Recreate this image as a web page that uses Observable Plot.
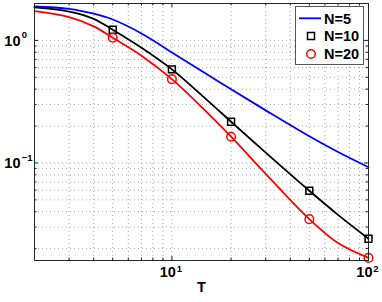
<!DOCTYPE html>
<html><head><meta charset="utf-8">
<script src="https://cdn.jsdelivr.net/npm/d3@7"></script>
<script src="https://cdn.jsdelivr.net/npm/@observablehq/plot@0.6"></script>
<style>
html,body{margin:0;padding:0;background:#fff;}
#wrap{position:relative;width:382px;height:302px;font-family:"Liberation Sans",Arial,sans-serif;}
#legend{position:absolute;left:295px;top:6px;}
</style></head><body><div id="wrap"></div>
<script>
// ---- data ----
const T   = [2, 3, 4, 5, 7, 10, 15, 20, 30, 50, 70, 100];
const n5  = [1.89, 1.81, 1.65, 1.48, 1.14, 0.798, 0.532, 0.399, 0.2685, 0.165, 0.1227, 0.0923];
const n10 = [1.86, 1.72, 1.50, 1.22, 0.87, 0.58, 0.329, 0.217, 0.1214, 0.0593, 0.0377, 0.0241];
const n20 = [1.73, 1.545, 1.30, 1.05, 0.75, 0.483, 0.261, 0.1637, 0.0815, 0.0348, 0.0222, 0.0168];
const seriesNames = ["N=5", "N=10", "N=20"];
const seriesColors = ["#0000ff", "#000000", "#ff0000"];
const markerT = [5, 10, 20, 50, 100];
const xMajor = [10, 100];
const xMajorExp = ["1", "2"];
const yMajor = [0.1, 1];
const yMajorExp = ["\u22121", "0"];
const xMinor = [2, 3, 4, 5, 6, 7, 8, 9, 20, 30, 40, 50, 60, 70, 80, 90];
const yMinor = [0.02, 0.03, 0.04, 0.05, 0.06, 0.07, 0.08, 0.09, 0.2, 0.3, 0.4, 0.5, 0.6, 0.7, 0.8, 0.9, 2];
const xLabel = "T";

// ---- build table ----
const values = [n5, n10, n20];
const data = [];
seriesNames.forEach((s, k) => T.forEach((t, i) => data.push({T: t, v: values[k][i], s})));
const marks10 = data.filter(d => d.s === "N=10" && markerT.includes(d.T));
const marks20 = data.filter(d => d.s === "N=20" && markerT.includes(d.T));

const W = 382, H = 302, mL = 34, mR = 14, mT = 3, mB = 42;
const pW = W - mL - mR, pH = H - mT - mB;
const font = "Liberation Sans, Arial, Helvetica, sans-serif";
const gridStyle = {stroke: "#8c8c8c", strokeDasharray: "1,3", strokeWidth: 1, strokeOpacity: 0.75};
const expData = (vals, exps) => vals.map((v, i) => ({v, e: exps[i]}));

const chart = Plot.plot({
  width: W, height: H,
  marginLeft: mL, marginRight: mR, marginTop: mT, marginBottom: mB,
  style: {fontFamily: font, fontWeight: "bold", background: "#fff", overflow: "visible"},
  x: {type: "log", domain: [2, 100], axis: null},
  y: {type: "log", domain: [0.016, 2], axis: null},
  color: {domain: seriesNames, range: seriesColors},
  marks: [
    Plot.ruleX(xMinor.concat(xMajor), {x: d => d, ...gridStyle}),
    Plot.ruleY(yMinor.concat(yMajor), {y: d => d, ...gridStyle}),
    // inward ticks (bottom/top, left/right)
    Plot.ruleX(xMajor, {x: d => d, insetTop: pH - 4, stroke: "#222"}),
    Plot.ruleX(xMajor, {x: d => d, insetBottom: pH - 4, stroke: "#222"}),
    Plot.ruleX(xMinor, {x: d => d, insetTop: pH - 2.5, stroke: "#222"}),
    Plot.ruleX(xMinor, {x: d => d, insetBottom: pH - 2.5, stroke: "#222"}),
    Plot.ruleY(yMajor, {y: d => d, insetRight: pW - 4, stroke: "#222"}),
    Plot.ruleY(yMajor, {y: d => d, insetLeft: pW - 4, stroke: "#222"}),
    Plot.ruleY(yMinor, {y: d => d, insetRight: pW - 2.5, stroke: "#222"}),
    Plot.ruleY(yMinor, {y: d => d, insetLeft: pW - 2.5, stroke: "#222"}),
    // series
    Plot.line(data, {x: "T", y: "v", z: "s", stroke: "s", strokeWidth: 1.8, curve: "catmull-rom"}),
    Plot.dot(marks10, {x: "T", y: "v", symbol: "square", r: 3.9, stroke: "#000", fill: "none", strokeWidth: 1.5}),
    Plot.dot(marks20, {x: "T", y: "v", symbol: "circle", r: 4.3, stroke: "#ff0000", fill: "none", strokeWidth: 1.5}),
    Plot.frame({stroke: "#262626", strokeWidth: 1}),
    // y tick labels 10^e
    Plot.text(expData(yMajor, yMajorExp), {y: "v", text: () => "10", frameAnchor: "left", textAnchor: "end", dx: -14, dy: 0.5, fontSize: 14.5, fontWeight: "bold", fill: "#000"}),
    Plot.text(expData(yMajor, yMajorExp), {y: "v", text: "e", frameAnchor: "left", textAnchor: "start", dx: -12.8, dy: -5.2, fontSize: 9.5, fontWeight: "bold", fill: "#000"}),
    // x tick labels 10^e
    Plot.text(expData(xMajor, xMajorExp), {x: "v", text: () => "10", frameAnchor: "bottom", textAnchor: "end", dx: 4, dy: 16.7, fontSize: 14.5, fontWeight: "bold", fill: "#000"}),
    Plot.text(expData(xMajor, xMajorExp), {x: "v", text: "e", frameAnchor: "bottom", textAnchor: "start", dx: 4.8, dy: 11, fontSize: 9.5, fontWeight: "bold", fill: "#000"}),
    // axis label
    Plot.text([xLabel], {text: d => d, frameAnchor: "bottom", dy: 31.7, fontSize: 14.5, fontWeight: "bold", fill: "#000"})
  ]
});
const wrap = document.getElementById("wrap");
wrap.appendChild(chart);

// ---- legend ----
const lg = d3.select(wrap).append("svg").attr("id", "legend")
  .attr("width", 70).attr("height", 60)
  .style("font-family", font).style("font-weight", "bold");
lg.append("rect").attr("x", 0.5).attr("y", 0.5).attr("width", 68).attr("height", 58)
  .attr("fill", "#fff").attr("stroke", "#555");
const rowY = [12.3, 30, 48];
lg.append("line").attr("x1", 4).attr("x2", 26).attr("y1", rowY[0]).attr("y2", rowY[0])
  .attr("stroke", seriesColors[0]).attr("stroke-width", 1.8);
lg.append("rect").attr("x", 16 - 3.5).attr("y", rowY[1] - 3.5).attr("width", 7).attr("height", 7)
  .attr("fill", "none").attr("stroke", seriesColors[1]).attr("stroke-width", 1.5);
lg.append("circle").attr("cx", 16).attr("cy", rowY[2]).attr("r", 4.3)
  .attr("fill", "none").attr("stroke", seriesColors[2]).attr("stroke-width", 1.5);
seriesNames.forEach((s, i) => lg.append("text").attr("x", 29).attr("y", rowY[i] + 5.2)
  .attr("font-size", 14.5).attr("fill", "#000").text(s));
</script></body></html>
